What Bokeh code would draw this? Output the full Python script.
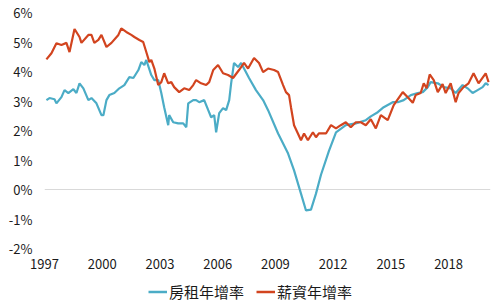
from bokeh.plotting import figure
from bokeh.layouts import column
from bokeh.models import FixedTicker, CustomJSTickFormatter, Legend, LegendItem, Range1d
from bokeh.embed import file_html
from bokeh.resources import INLINE

# 房租年增率 (rent growth, %)
rent_year = [1997.10, 1997.26, 1997.52, 1997.62, 1997.88, 1998.04, 1998.24, 1998.50, 1998.66, 1998.82,
             1999.02, 1999.28, 1999.44, 1999.70, 1999.96, 2000.06, 2000.22, 2000.37, 2000.63, 2000.89,
             2001.15, 2001.41, 2001.62, 2001.88, 2002.03, 2002.19, 2002.29, 2002.55, 2002.71, 2002.91,
             2003.07, 2003.22, 2003.43, 2003.48, 2003.69, 2003.95, 2004.21, 2004.37, 2004.47, 2004.73,
             2004.88, 2005.04, 2005.30, 2005.51, 2005.66, 2005.82, 2005.92, 2006.08, 2006.28, 2006.44,
             2006.60, 2006.70, 2006.85, 2007.06, 2007.22, 2007.37, 2007.63, 2007.99, 2008.36, 2008.62,
             2009.14, 2009.66, 2009.97, 2010.33, 2010.59, 2010.85, 2011.11, 2011.37, 2011.78, 2012.15,
             2012.66, 2013.18, 2013.70, 2013.96, 2014.32, 2014.63, 2015.10, 2015.36, 2015.67, 2016.04,
             2016.40, 2016.66, 2016.92, 2017.07, 2017.44, 2017.75, 2018.11, 2018.37, 2018.73, 2018.99,
             2019.25, 2019.51, 2019.77, 2019.93, 2020.08]
rent_pct = [3.03, 3.10, 3.06, 2.92, 3.13, 3.37, 3.27, 3.40, 3.27, 3.60,
            3.43, 3.03, 3.10, 2.92, 2.52, 2.52, 3.03, 3.20, 3.27, 3.43,
            3.54, 3.81, 3.78, 4.05, 4.32, 4.22, 4.39, 3.88, 3.71, 3.71,
            3.27, 2.79, 2.18, 2.52, 2.28, 2.24, 2.24, 2.11, 2.92, 3.03,
            3.03, 2.96, 3.03, 2.69, 2.45, 2.52, 1.94, 2.59, 2.76, 2.69,
            3.03, 3.60, 4.29, 4.15, 4.29, 4.10, 3.78, 3.37, 3.03, 2.69,
            1.90, 1.22, 0.65, -0.14, -0.71, -0.68, -0.14, 0.50, 1.30, 1.94,
            2.18, 2.24, 2.35, 2.48, 2.62, 2.79, 2.96, 2.96, 3.03, 3.20,
            3.27, 3.30, 3.47, 3.64, 3.60, 3.47, 3.43, 3.27, 3.54, 3.43,
            3.27, 3.37, 3.47, 3.60, 3.54]

# 薪資年增率 (wage growth, %)
wage_year = [1997.10, 1997.36, 1997.62, 1997.88, 1998.14, 1998.30, 1998.56, 1998.82, 1998.92, 1999.28,
             1999.44, 1999.59, 1999.80, 1999.96, 2000.22, 2000.48, 2000.84, 2000.99, 2001.25, 2001.51,
             2001.67, 2001.93, 2002.13, 2002.29, 2002.45, 2002.55, 2002.71, 2002.91, 2003.07, 2003.22,
             2003.43, 2003.59, 2003.74, 2004.00, 2004.26, 2004.52, 2004.73, 2004.88, 2005.14, 2005.40,
             2005.56, 2005.77, 2006.02, 2006.28, 2006.54, 2006.80, 2007.11, 2007.37, 2007.58, 2007.89,
             2008.15, 2008.36, 2008.62, 2008.93, 2009.14, 2009.40, 2009.55, 2009.71, 2009.81, 2009.97,
             2010.17, 2010.33, 2010.49, 2010.69, 2010.95, 2011.11, 2011.26, 2011.63, 2011.89, 2012.15,
             2012.40, 2012.66, 2012.92, 2013.18, 2013.44, 2013.70, 2013.96, 2014.22, 2014.48, 2014.84,
             2015.15, 2015.62, 2015.88, 2016.14, 2016.29, 2016.55, 2016.71, 2016.86, 2017.02, 2017.23,
             2017.44, 2017.69, 2017.85, 2018.11, 2018.37, 2018.52, 2018.78, 2019.04, 2019.30, 2019.56,
             2019.93, 2020.08]
wage_pct = [4.41, 4.62, 4.96, 4.90, 4.97, 4.66, 5.44, 5.17, 4.97, 5.24,
            5.24, 4.97, 5.07, 5.24, 4.83, 4.97, 5.24, 5.46, 5.34, 5.24,
            5.17, 5.07, 5.00, 4.66, 4.32, 4.39, 4.10, 3.54, 3.64, 3.94,
            3.60, 3.64, 3.47, 3.30, 3.43, 3.37, 3.54, 3.71, 3.60, 3.54,
            3.64, 4.05, 4.22, 3.94, 3.88, 3.78, 4.05, 4.29, 4.10, 4.46,
            4.29, 3.98, 4.10, 4.05, 3.98, 3.54, 3.30, 3.20, 2.79, 2.18,
            1.90, 1.67, 1.90, 1.67, 1.94, 1.77, 1.90, 1.90, 2.18, 2.07,
            2.18, 2.28, 2.11, 2.28, 2.28, 2.18, 2.38, 2.07, 2.52, 2.35,
            2.86, 3.30, 3.13, 2.94, 3.20, 3.27, 3.60, 3.43, 3.90, 3.71,
            3.30, 3.57, 3.27, 3.60, 2.96, 3.27, 3.47, 3.60, 3.94, 3.60,
            3.94, 3.64]

x_ticks = [1997, 2000, 2003, 2006, 2009, 2012, 2015, 2018]
y_ticks = [-2, -1, 0, 1, 2, 3, 4, 5, 6]
series_names = ["房租年增率", "薪資年增率"]
series_colors = ["#4BACC6", "#D2441F"]

font = "Noto Sans CJK TC"

p = figure(width=492, height=280, output_backend="svg", toolbar_location=None,
           x_range=Range1d(1997, 2020.18), y_range=Range1d(-2, 6),
           min_border_left=44, min_border_right=2, min_border_top=12, min_border_bottom=32)
p.outline_line_color = None
p.background_fill_color = "white"
p.border_fill_color = "white"

p.line(rent_year, rent_pct, line_color=series_colors[0], line_width=2.2)
p.line(wage_year, wage_pct, line_color=series_colors[1], line_width=2.2)

p.xaxis.ticker = FixedTicker(ticks=x_ticks)
p.yaxis.ticker = FixedTicker(ticks=y_ticks)
p.yaxis.formatter = CustomJSTickFormatter(code="return tick.toFixed(0) + '%';")
p.xaxis.formatter = CustomJSTickFormatter(code="return tick.toFixed(0);")
for ax in (p.xaxis, p.yaxis):
    ax.axis_line_color = None
    ax.major_tick_line_color = None
    ax.minor_tick_line_color = None
    ax.major_tick_out = 0
    ax.major_tick_in = 0
    ax.minor_tick_out = 0
    ax.major_label_text_font = font
    ax.major_label_text_font_size = "13px"
    ax.major_label_text_color = "#1a1a1a"
p.yaxis.major_label_standoff = 12
p.xaxis.major_label_standoff = 10

p.xgrid.visible = False
p.ygrid.ticker = FixedTicker(ticks=[0])
p.ygrid.grid_line_color = "#D9D9D9"
p.ygrid.grid_line_width = 1

# legend strip below the chart (legend-only renderers lie outside the visible range)
lg = figure(width=492, height=24, output_backend="svg", toolbar_location=None,
            x_range=Range1d(0, 1), y_range=Range1d(0, 1),
            min_border_left=0, min_border_right=0, min_border_top=0, min_border_bottom=0)
lg.axis.visible = False
lg.grid.visible = False
lg.outline_line_color = None
l1 = lg.line([-2, -1], [-2, -2], line_color=series_colors[0], line_width=2.5)
l2 = lg.line([-2, -1], [-2, -2], line_color=series_colors[1], line_width=2.5)
legend = Legend(items=[LegendItem(label=series_names[0], renderers=[l1]),
                       LegendItem(label=series_names[1], renderers=[l2])],
                orientation="horizontal", location=(104, 2),
                border_line_color=None, background_fill_alpha=0,
                label_text_font=font, label_text_font_size="15px", label_text_color="#1a1a1a",
                glyph_width=19, glyph_height=19, label_standoff=2, spacing=12,
                padding=2, margin=0)
lg.add_layout(legend, "center")

layout = column(p, lg, spacing=0)
open("out.html", "w").write(file_html(layout, INLINE))
